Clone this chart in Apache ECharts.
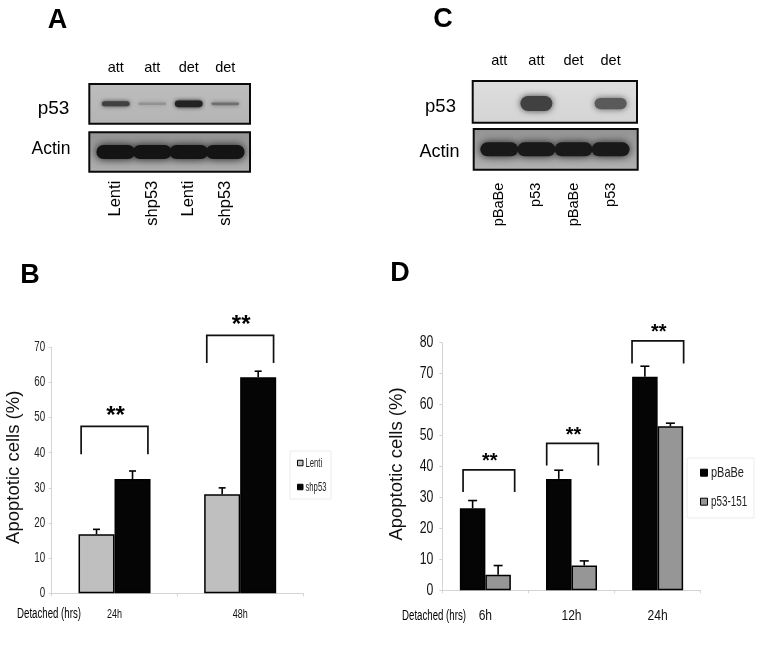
<!DOCTYPE html>
<html><head><meta charset="utf-8">
<style>html,body{margin:0;padding:0;background:#fff}#c{width:762px;height:657px}</style>
<script src="https://cdn.jsdelivr.net/npm/echarts@6/dist/echarts.min.js"></script>
</head><body><div id="c"></div>
<script>
// ---- data ----
const laneTopA = ['att','att','det','det'];
const laneBottomA = ['Lenti','shp53','Lenti','shp53'];
const laneTopC = ['att','att','det','det'];
const laneBottomC = ['pBaBe','p53','pBaBe','p53'];
const bandsAp53 = [0.72,0.2,0.95,0.42];
const bandsAactin = [1,1,1,1];
const bandsCp53 = [0,1,0,0.75];
const bandsCactin = [1,1,1,1];

const catsB = ['24h','48h'];
const ticksB = [0,10,20,30,40,50,60,70];
const lenti = [16.8,28.2];
const shp53 = [32.5,61.5];
const lentiTop = [18.2,30];
const shp53Top = [34.8,63.2];
const bracketsB = [[0,39.6,47.5],[1,65.5,73.4]];

const catsD = ['6h','12h','24h'];
const ticksD = [0,10,20,30,40,50,60,70,80];
const pBaBe = [26.5,36,69];
const p53151 = [5,8,53];
const pBaBeTop = [29,38.8,72.4];
const p53151Top = [8,9.5,54];
const bracketsD = [[0,31.8,38.9],[1,40.3,47.5],[2,73.3,80.6]];

// ---- helpers ----
const SANS = '"Liberation Sans",Arial,sans-serif';
const chart = echarts.init(document.getElementById('c'));

function mix(a,b,t){const v=Math.round(a+(b-a)*t);return 'rgb('+v+','+v+','+v+')';}

function bandSeries(idx,vals,opt){
  return {type:'custom',xAxisIndex:idx,yAxisIndex:idx,silent:true,clip:false,z:3,
    data:vals.map((v,i)=>[i,v]),
    renderItem(p,api){
      const v=api.value(1); if(!v) return {type:'group',children:[]};
      const c=api.coord([api.value(0),0.5+(opt.dy||0)]);
      const w=api.size([1,0])[0]*opt.frac;
      const h=Math.max(2.5,opt.base*v);
      const col=mix(opt.bg,opt.dark,Math.min(1,0.05+v*1.05));
      return {type:'rect',shape:{x:c[0]-w/2,y:c[1]-h/2,width:w,height:h,r:h/2},
        style:{fill:col,shadowBlur:opt.blur,shadowColor:col}};
    }};
}
function errSeries(idx,tops,side,w,cap,lw){
  return {type:'custom',xAxisIndex:idx,yAxisIndex:idx,silent:true,z:5,
    data:tops.map((t,i)=>[i,t[0],t[1]]),
    renderItem(p,api){
      const a=api.coord([api.value(0),api.value(1)]);
      const b=api.coord([api.value(0),api.value(2)]);
      const x=a[0]+side*w/2;
      return {type:'group',children:[
        {type:'line',shape:{x1:x,y1:a[1],x2:x,y2:b[1]},style:{stroke:'#000',lineWidth:lw}},
        {type:'line',shape:{x1:x-cap/2,y1:b[1],x2:x+cap/2,y2:b[1]},style:{stroke:'#000',lineWidth:lw}}
      ]};
    }};
}
function bracketSeries(idx,rows,half,shifts,fs,lift){
  return {type:'custom',xAxisIndex:idx,yAxisIndex:idx,silent:true,clip:false,z:6,
    data:rows,
    renderItem(p,api){
      const i=api.value(0);
      const lo=api.coord([i,api.value(1)]), hi=api.coord([i,api.value(2)]);
      const x=lo[0]+shifts[i];
      return {type:'group',children:[
        {type:'polyline',shape:{points:[[x-half,lo[1]],[x-half,hi[1]],[x+half,hi[1]],[x+half,lo[1]]]},
         style:{stroke:'#111',lineWidth:1.7,fill:null}},
        {type:'text',style:{x:x+1,y:hi[1]-lift,text:'**',fill:'#000',fontFamily:SANS,fontWeight:'bold',fontSize:fs,align:'center',verticalAlign:'top'}}
      ]};
    }};
}
// condensed tick labels: positions come from the axis scales, glyphs squeezed horizontally
function yLabels(idx,ticks,gap,fs,sx,color){
  return {type:'custom',xAxisIndex:idx,yAxisIndex:idx,silent:true,clip:false,z:7,
    data:ticks.map(t=>[0,t]),
    renderItem(p,api){
      const c=api.coord([0,api.value(1)]);
      return {type:'text',x:p.coordSys.x-gap,y:c[1],scaleX:sx,
        style:{text:String(api.value(1)),fontFamily:SANS,fontSize:fs,fill:color,align:'right',verticalAlign:'middle'}};
    }};
}
function xLabels(idx,cats,gap,fs,sx,color){
  return {type:'custom',xAxisIndex:idx,yAxisIndex:idx,silent:true,clip:false,z:7,
    data:cats.map((c,i)=>[i,0]),
    renderItem(p,api){
      const i=api.value(0);
      const c=api.coord([i,0]);
      return {type:'text',x:c[0],y:c[1]+gap,scaleX:sx,
        style:{text:cats[i],fontFamily:SANS,fontSize:fs,fill:color,align:'center',verticalAlign:'middle'}};
    }};
}
function panel(x,y,w,h,top,bottom){
  return {type:'rect',shape:{x,y,width:w,height:h},z:1,
    style:{fill:new echarts.graphic.LinearGradient(0,0,0,1,[{offset:0,color:top},{offset:1,color:bottom}]),stroke:'#0a0a0a',lineWidth:2}};
}
function txt(x,y,s,fs,extra,sx){
  return {type:'text',x,y,scaleX:sx||1,z:10,style:Object.assign({text:s,fontSize:fs,fontFamily:SANS,fill:'#000',align:'center',verticalAlign:'middle'},extra||{})};
}
function legendItem(x,y,size,color,border,tx,s,fs,sx){
  return [
    {type:'rect',z:10,shape:{x:x,y:y-size/2,width:size,height:size},style:{fill:color,stroke:border,lineWidth:1}},
    txt(tx,y+0.5,s,fs,{align:'left',fill:'#222'},sx)
  ];
}
function legendBox(x,y,w,h){return {type:'rect',z:1,shape:{x,y,width:w,height:h},style:{fill:'#fff',stroke:'#ececec',lineWidth:1}};}
function blotGrid(left,width,top,height){return {left,width,top,height,show:false,outerBoundsMode:'none'};}
function blotX(idx,data,pos,margin,rot,fs){
  return {type:'category',gridIndex:idx,data,position:pos,
    axisLine:{show:false},axisTick:{show:false},
    axisLabel:{show:true,margin,rotate:rot,fontSize:fs,fontFamily:SANS,color:'#000',interval:0}};
}
function blotY(idx){return {type:'value',gridIndex:idx,min:0,max:1,show:false};}

const W=36, WD=25.5, AX='#d4d4d4';
const option={
  animation:false,backgroundColor:'#fff',
  grid:[
    blotGrid(97.5,146,84,39.7),
    blotGrid(97.5,146,132.3,39.4),
    blotGrid(480.7,148.5,81,41.7),
    blotGrid(480.7,148.5,129,40.7),
    blotGrid(51.7,251.3,347.3,246),
    blotGrid(442.3,258.4,342.7,247.6)
  ],
  xAxis:[
    blotX(0,laneTopA,'top',9,0,14.5),
    blotX(1,laneBottomA,'bottom',9,90,16.5),
    blotX(2,laneTopC,'top',13,0,14.5),
    blotX(3,laneBottomC,'bottom',13,90,14.5),
    {type:'category',gridIndex:4,data:catsB,
     axisLine:{lineStyle:{color:AX,width:1}},axisTick:{show:true,length:3,lineStyle:{color:AX}},axisLabel:{show:false}},
    {type:'category',gridIndex:5,data:catsD,
     axisLine:{lineStyle:{color:AX,width:1}},axisTick:{show:true,length:3,lineStyle:{color:AX}},axisLabel:{show:false}}
  ],
  yAxis:[
    blotY(0),blotY(1),blotY(2),blotY(3),
    {type:'value',gridIndex:4,min:0,max:70,interval:10,
     splitLine:{show:false},
     axisLine:{show:true,lineStyle:{color:AX}},axisTick:{show:true,length:3,lineStyle:{color:AX}},axisLabel:{show:false},
     name:'Apoptotic cells (%)',nameLocation:'middle',nameGap:28,nameRotate:90,
     nameTextStyle:{fontSize:18.5,fontFamily:SANS,color:'#111',padding:[0,0,0,6]}},
    {type:'value',gridIndex:5,min:0,max:80,interval:10,
     splitLine:{show:false},
     axisLine:{show:true,lineStyle:{color:AX}},axisTick:{show:true,length:3,lineStyle:{color:AX}},axisLabel:{show:false},
     name:'Apoptotic cells (%)',nameLocation:'middle',nameGap:36,nameRotate:90,
     nameTextStyle:{fontSize:18.5,fontFamily:SANS,color:'#111',padding:[0,0,0,5]}}
  ],
  series:[
    bandSeries(0,bandsAp53,{base:7,frac:0.76,blur:4,bg:185,dark:35}),
    bandSeries(1,bandsAactin,{base:14,frac:1.06,blur:9,bg:155,dark:20}),
    bandSeries(2,bandsCp53,{base:15,frac:0.86,blur:6,bg:220,dark:65,dy:-0.04}),
    bandSeries(3,bandsCactin,{base:14,frac:1.02,blur:8,bg:160,dark:25}),
    {name:'Lenti',type:'bar',xAxisIndex:4,yAxisIndex:4,data:lenti,barWidth:W,barGap:'0%',
     itemStyle:{color:'#bfbfbf',borderColor:'#000',borderWidth:1.5}},
    {name:'shp53',type:'bar',xAxisIndex:4,yAxisIndex:4,data:shp53,barWidth:W,barGap:'0%',
     itemStyle:{color:'#050505',borderColor:'#000',borderWidth:1.5}},
    errSeries(4,lenti.map((v,i)=>[v,lentiTop[i]]),-1,W,7,1.6),
    errSeries(4,shp53.map((v,i)=>[v,shp53Top[i]]),1,W,7,1.6),
    bracketSeries(4,bracketsB,33.4,[0,0],24,22),
    yLabels(4,ticksB,6.5,14,0.7,'#222'),
    xLabels(4,catsB,21,12.5,0.72,'#111'),
    {name:'pBaBe',type:'bar',xAxisIndex:5,yAxisIndex:5,data:pBaBe,barWidth:WD,barGap:'0%',
     itemStyle:{color:'#050505',borderColor:'#000',borderWidth:1.5}},
    {name:'p53-151',type:'bar',xAxisIndex:5,yAxisIndex:5,data:p53151,barWidth:WD,barGap:'0%',
     itemStyle:{color:'#969696',borderColor:'#000',borderWidth:1.5}},
    errSeries(5,pBaBe.map((v,i)=>[v,pBaBeTop[i]]),-1,WD,9,1.6),
    errSeries(5,p53151.map((v,i)=>[v,p53151Top[i]]),1,WD,9,1.6),
    bracketSeries(5,bracketsD,25.8,[3.5,1,0.2],20,18),
    yLabels(5,ticksD,9,17,0.72,'#111'),
    xLabels(5,catsD,25.5,15.5,0.78,'#111')
  ],
  graphic:{elements:[
    panel(89.3,84,160.7,39.7,'#bdbdbd','#b4b4b4'),
    panel(89.3,132.3,160.7,39.4,'#929292','#b0b0b0'),
    panel(472.7,81,164.3,41.7,'#dedede','#d4d4d4'),
    panel(473.7,129,164,40.7,'#939393','#b2b2b2'),
    txt(57.5,21,'A',27,{fontWeight:'bold'}),
    txt(443,20,'C',27,{fontWeight:'bold'}),
    txt(30,276,'B',27,{fontWeight:'bold'}),
    txt(400,273.5,'D',27,{fontWeight:'bold'}),
    txt(53.5,109,'p53',19),
    txt(51,149,'Actin',17.5),
    txt(440.5,107,'p53',18.5),
    txt(439.5,152,'Actin',18),
    txt(49,614,'Detached (hrs)',14,null,0.69),
    txt(434,616,'Detached (hrs)',14,null,0.69),
    legendBox(290,451,41,48),
    legendBox(687,458,67,60)
  ].concat(
    legendItem(297.5,463,5.5,'#bfbfbf','#000',305.5,'Lenti',12,0.64),
    legendItem(297.5,487,5.5,'#050505','#000',305.5,'shp53',12,0.64),
    legendItem(700.5,472.7,7,'#050505','#000',711,'pBaBe',15,0.73),
    legendItem(700.5,501.7,7,'#969696','#000',711,'p53-151',15,0.66)
  )}
};
chart.setOption(option);
</script></body></html>
